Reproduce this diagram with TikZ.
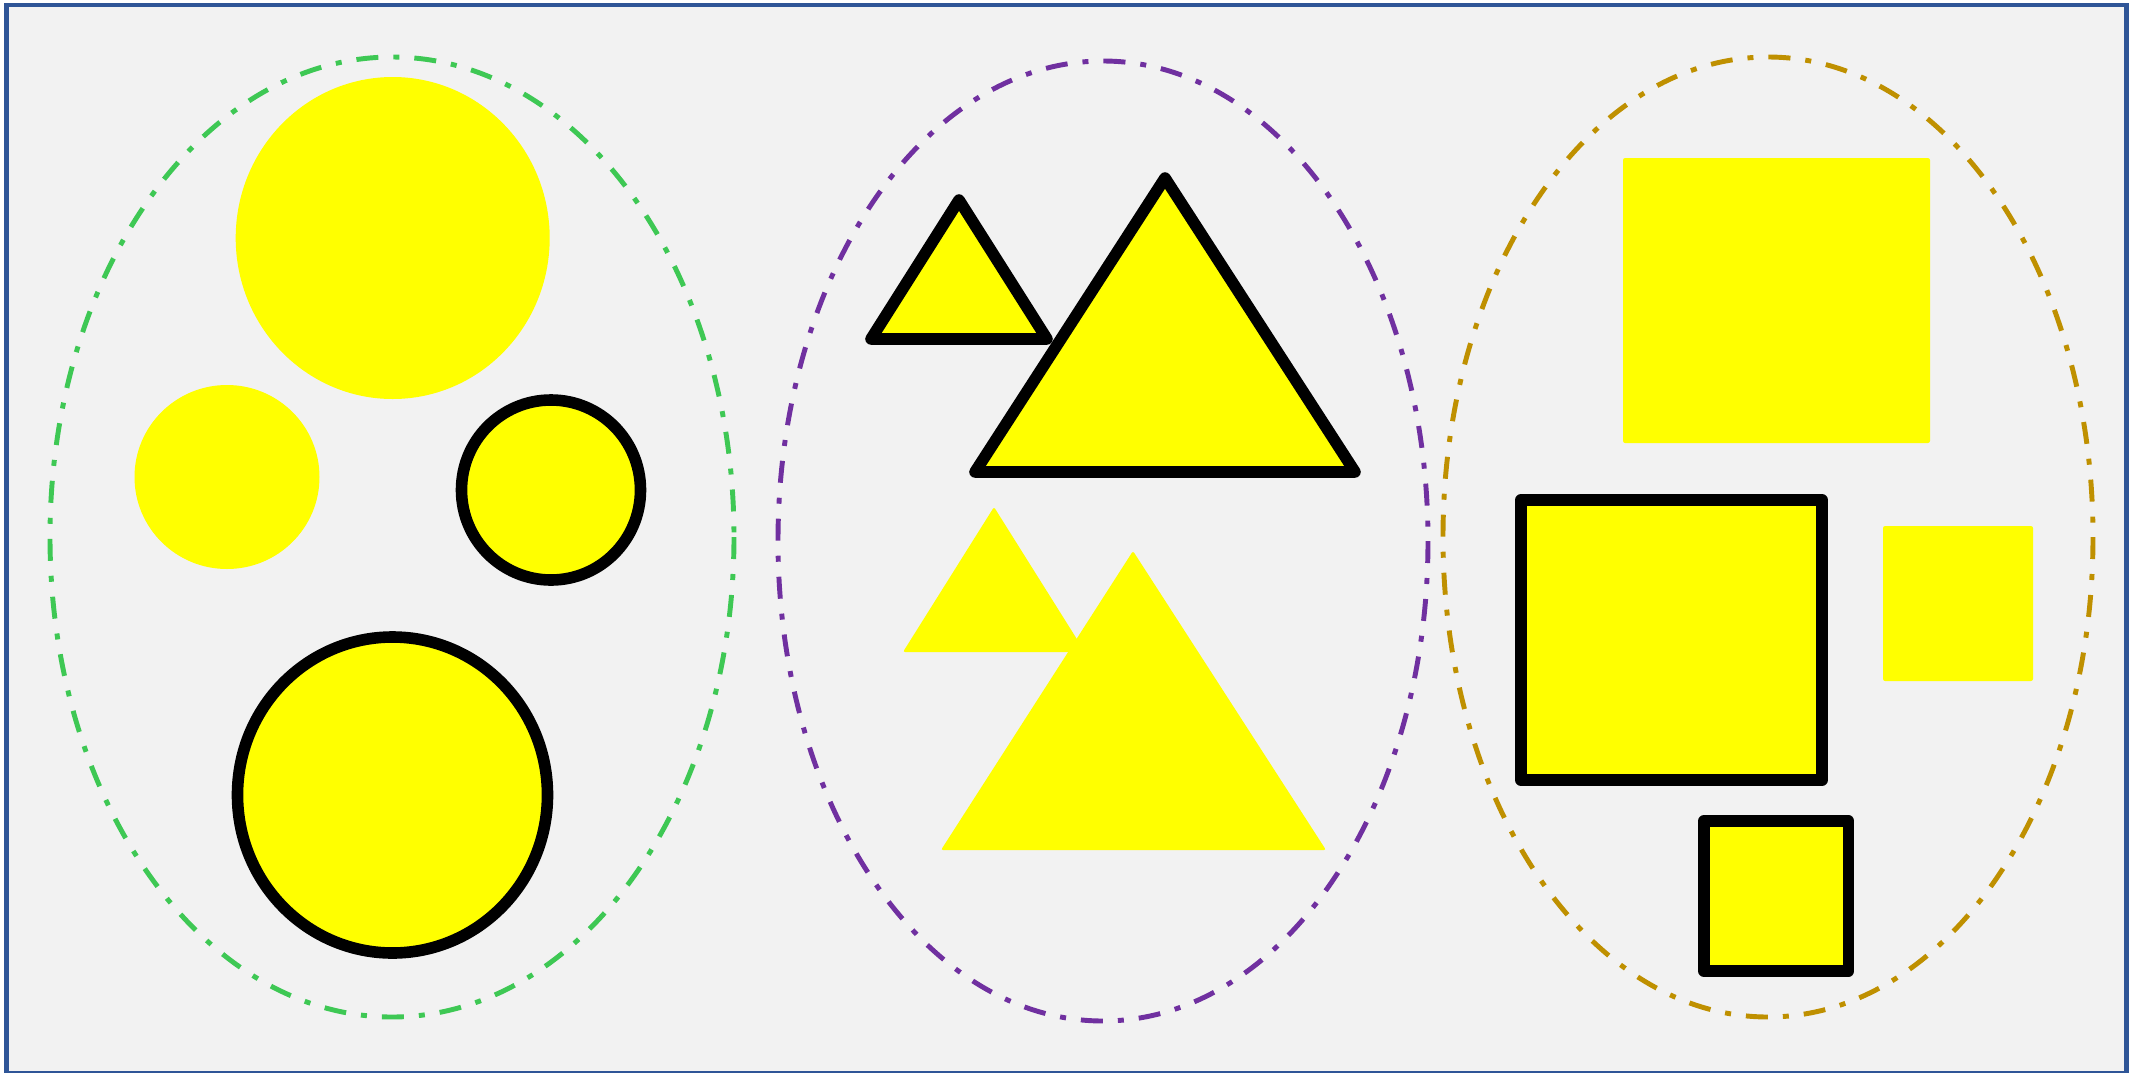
\documentclass[tikz,border=0pt]{standalone}
\usepackage{tikz}
\usepackage{xcolor}
\definecolor{pagebg}{RGB}{242,242,242}
\definecolor{frameblue}{RGB}{47,85,151}
\definecolor{circlegreen}{RGB}{62,200,84}
\definecolor{trianglepurple}{RGB}{112,48,160}
\definecolor{squaregold}{RGB}{191,144,0}
\definecolor{shapeyellow}{RGB}{255,255,0}

\begin{document}
\begin{tikzpicture}[
    x=0.01cm, y=-0.01cm,
    group/.style={line width=1.4pt, dash pattern=on 0.22cm off 0.15cm on 0.06cm off 0.15cm},
    plain/.style={fill=shapeyellow, rounded corners=0.6pt},
    outlined/.style={fill=shapeyellow, draw=black, line width=3.3pt, line join=round}
]

% Page and frame
\fill[white] (0,0) rectangle (2129,1072);
\useasboundingbox (0,0) rectangle (2129,1072);
\begin{scope}
\clip (0,0) rectangle (2129,1072);
\draw[frameblue, line width=1.4pt, fill=pagebg] (6.5,5) rectangle (2126.5,1073.5);
\end{scope}

% Group outlines
\draw[group, circlegreen] (392,537) ellipse [x radius=342, y radius=480];
\draw[group, trianglepurple] (1103,541) ellipse [x radius=325, y radius=480];
\draw[group, squaregold] (1768,537) ellipse [x radius=325, y radius=480];

% 1. CIRCLES
\fill[plain] (392.7,238) ellipse [x radius=157, y radius=161];
\fill[plain] (227,477) ellipse [x radius=92.5, y radius=92];
\draw[outlined] (551,490) ellipse [x radius=89.5, y radius=90];
\draw[outlined] (392.5,795) ellipse [x radius=155, y radius=158];

% 2. TRIANGLES
\draw[outlined] (871,339) -- (959,200) -- (1047,339) -- cycle;
\draw[outlined] (975,472) -- (1165,178) -- (1355,472) -- cycle;
\fill[plain] (903,652) -- (994,507) -- (1085,652) -- cycle;
\fill[plain] (941,850) -- (1133,551) -- (1326,850) -- cycle;

% 3. SQUARES
\fill[plain] (1623,158) rectangle (1930,443);
\draw[outlined] (1521,500) rectangle (1822,780);
\fill[plain] (1883,526) rectangle (2033,681);
\draw[outlined] (1704,821) rectangle (1848.5,971);

\end{tikzpicture}
\end{document}
